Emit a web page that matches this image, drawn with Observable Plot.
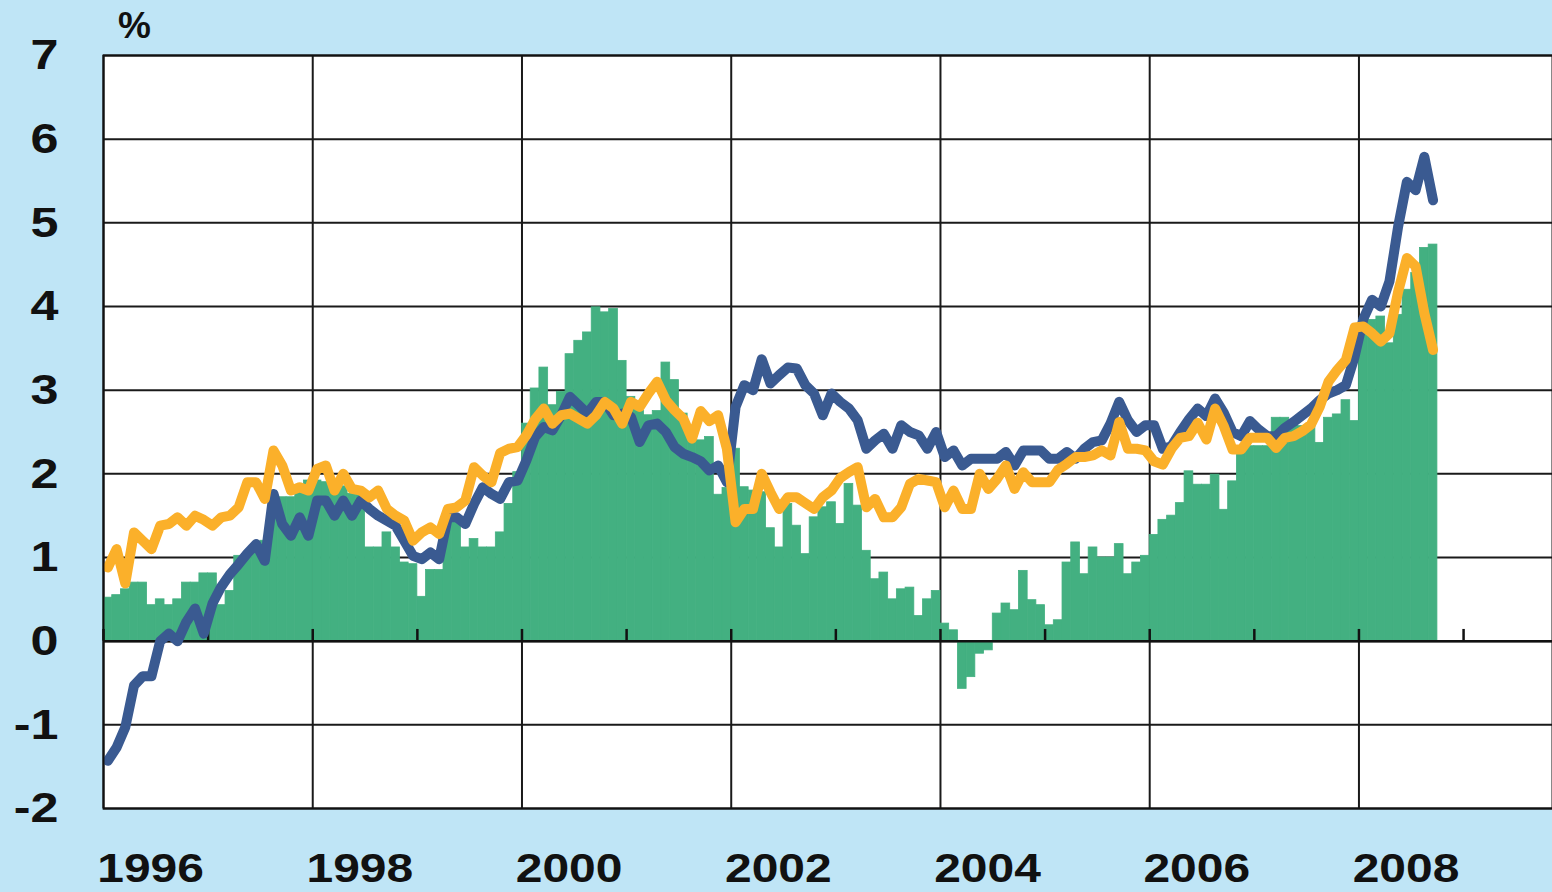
<!DOCTYPE html>
<html>
<head>
<meta charset="utf-8">
<script src="https://cdn.jsdelivr.net/npm/d3@7"></script>
<script src="https://cdn.jsdelivr.net/npm/@observablehq/plot@0.6"></script>
<style>
  html, body { margin: 0; padding: 0; overflow: hidden; }
  body { background: #bfe5f6; width: 1552px; height: 892px; }
  #chart { width: 1552px; height: 892px; }
</style>
</head>
<body>
<div id="chart"></div>
<script>
// Monthly series, January 1996 to September 2008
const startYear = 1996;

const greenSeries = [
  0.52, 0.55, 0.62, 0.70, 0.70, 0.43, 0.50, 0.43, 0.50, 0.70, 0.70, 0.81,
  0.81, 0.43, 0.60, 1.02, 1.02, 1.10, 1.20, 1.50, 1.72, 1.72, 1.80, 1.92,
  1.92, 1.90, 1.88, 1.85, 1.76, 1.76, 1.12, 1.12, 1.30, 1.12, 0.94, 0.92,
  0.53, 0.85, 0.85, 1.44, 1.44, 1.12, 1.22, 1.12, 1.12, 1.30, 1.64, 2.02,
  2.60, 3.02, 3.27, 2.82, 2.98, 3.43, 3.59, 3.69, 3.99, 3.93, 3.97, 3.35,
  2.92, 2.75, 2.70, 2.75, 3.33, 3.12, 2.72, 2.44, 2.40, 2.44, 1.75, 1.83,
  2.30, 1.84, 1.80, 1.78, 1.35, 1.12, 1.64, 1.38, 1.04, 1.48, 1.60, 1.66,
  1.40, 1.88, 1.62, 1.08, 0.74, 0.82, 0.50, 0.62, 0.64, 0.30, 0.50, 0.60,
  0.21, 0.13, -0.57, -0.43, -0.15, -0.11, 0.33, 0.45, 0.37, 0.84, 0.49, 0.43,
  0.19, 0.25, 0.94, 1.18, 0.80, 1.12, 1.00, 1.00, 1.16, 0.80, 0.94, 1.02,
  1.27, 1.45, 1.50, 1.65, 2.03, 1.87, 1.87, 1.99, 1.57, 1.91, 2.33, 2.33,
  2.33, 2.33, 2.67, 2.67, 2.60, 2.57, 2.57, 2.37, 2.67, 2.71, 2.88, 2.63,
  3.84, 3.84, 3.88, 3.56, 3.90, 4.20, 4.40, 4.70, 4.74
];

const blueSeries = [
  -1.43, -1.27, -1.03, -0.53, -0.42, -0.42, 0.00, 0.09, 0.00, 0.23, 0.39, 0.09,
  0.45, 0.65, 0.80, 0.92, 1.05, 1.16, 0.96, 1.76, 1.40, 1.26, 1.48, 1.26,
  1.68, 1.68, 1.50, 1.68, 1.50, 1.68, 1.58, 1.50, 1.44, 1.38, 1.20, 1.02,
  0.98, 1.06, 0.98, 1.48, 1.48, 1.40, 1.64, 1.84, 1.76, 1.70, 1.90, 1.92,
  2.16, 2.44, 2.56, 2.52, 2.70, 2.92, 2.82, 2.72, 2.86, 2.86, 2.70, 2.72,
  2.68, 2.38, 2.58, 2.60, 2.50, 2.32, 2.24, 2.20, 2.15, 2.04, 2.10, 1.90,
  2.80, 3.06, 3.00, 3.37, 3.08, 3.18, 3.27, 3.26, 3.06, 2.96, 2.70, 2.96,
  2.86, 2.78, 2.64, 2.30, 2.40, 2.48, 2.30, 2.58, 2.50, 2.46, 2.30, 2.50,
  2.20, 2.28, 2.10, 2.18, 2.18, 2.18, 2.18, 2.26, 2.10, 2.28, 2.28, 2.28,
  2.18, 2.18, 2.26, 2.18, 2.30, 2.38, 2.40, 2.60, 2.86, 2.64, 2.50, 2.58,
  2.58, 2.30, 2.33, 2.50, 2.65, 2.78, 2.69, 2.90, 2.73, 2.50, 2.45, 2.63,
  2.53, 2.45, 2.45, 2.55, 2.62, 2.70, 2.78, 2.88, 2.96, 3.00, 3.06, 3.40,
  3.85, 4.08, 4.00, 4.30, 4.96, 5.49, 5.39, 5.79, 5.27
];

const orangeSeries = [
  0.88, 1.10, 0.69, 1.30, 1.20, 1.10, 1.38, 1.40, 1.48, 1.38, 1.50, 1.45,
  1.38, 1.48, 1.50, 1.60, 1.90, 1.90, 1.70, 2.28, 2.10, 1.80, 1.84, 1.80,
  2.06, 2.10, 1.80, 2.00, 1.82, 1.80, 1.72, 1.80, 1.58, 1.50, 1.44, 1.20,
  1.30, 1.36, 1.28, 1.58, 1.60, 1.68, 2.08, 1.98, 1.90, 2.25, 2.30, 2.32,
  2.46, 2.65, 2.78, 2.60, 2.70, 2.72, 2.66, 2.60, 2.70, 2.86, 2.78, 2.60,
  2.86, 2.80, 2.96, 3.10, 2.88, 2.76, 2.66, 2.42, 2.75, 2.63, 2.70, 2.30,
  1.42, 1.58, 1.58, 2.00, 1.78, 1.58, 1.72, 1.72, 1.65, 1.58, 1.72, 1.80,
  1.95, 2.02, 2.08, 1.60, 1.70, 1.48, 1.48, 1.60, 1.88, 1.94, 1.92, 1.90,
  1.60, 1.80, 1.58, 1.58, 2.00, 1.82, 1.94, 2.10, 1.82, 2.02, 1.90, 1.90,
  1.90, 2.05, 2.12, 2.20, 2.20, 2.22, 2.28, 2.22, 2.62, 2.30, 2.30, 2.28,
  2.15, 2.11, 2.30, 2.43, 2.45, 2.61, 2.41, 2.78, 2.57, 2.29, 2.29, 2.43,
  2.43, 2.43, 2.31, 2.43, 2.45, 2.51, 2.59, 2.80, 3.10, 3.24, 3.36, 3.75,
  3.76, 3.68, 3.58, 3.68, 4.18, 4.58, 4.48, 3.92, 3.48
];

const yTicks = [-2, -1, 0, 1, 2, 3, 4, 5, 6, 7];
const gridYears = [1996, 1998, 2000, 2002, 2004, 2006, 2008];
const tickYears = [1996, 1997, 1998, 1999, 2000, 2001, 2002, 2003, 2004, 2005, 2006, 2007, 2008, 2009];
const labelYears = [1996, 1998, 2000, 2002, 2004, 2006, 2008];
const unitLabel = ["%"];

// Build tables
const bars = greenSeries.map((v, i) => ({x1: startYear + i / 12, x2: startYear + (i + 1) / 12, v}));
const toPoints = (arr) => arr.map((v, i) => ({x: startYear + (i + 0.5) / 12, v}));
const bluePts = toPoints(blueSeries);
const orangePts = toPoints(orangeSeries);

const labelOffset = 0.45; // labels sit between gridlines
const font = "'Liberation Sans', Arial, Helvetica, sans-serif";

const chart = Plot.plot({
  width: 1552,
  height: 892,
  marginLeft: 103,
  marginRight: 0,
  marginTop: 55,
  marginBottom: 84,
  style: {background: "transparent", fontFamily: font, color: "#111"},
  x: {domain: [1996, 2009.85], axis: null},
  y: {domain: [-2, 7], axis: null},
  marks: [
    Plot.frame({fill: "white", stroke: null}),
    Plot.ruleY(yTicks, {stroke: "#1a1a1a", strokeWidth: 2}),
    Plot.ruleX(gridYears, {stroke: "#1a1a1a", strokeWidth: 2}),
    Plot.rectY(bars, {x1: "x1", x2: "x2", y1: 0, y2: "v", fill: "#43b081", stroke: "#43b081", strokeWidth: 0.8, inset: 0}),
    Plot.ruleY([0], {stroke: "#111", strokeWidth: 2.5}),
    Plot.ruleX(tickYears, {y1: 0, y2: 0.14, stroke: "#111", strokeWidth: 2.5}),
    Plot.line(bluePts, {x: "x", y: "v", stroke: "#3a5a91", strokeWidth: 10, strokeLinejoin: "round", strokeLinecap: "round"}),
    Plot.line(orangePts, {x: "x", y: "v", stroke: "#fbb02a", strokeWidth: 10, strokeLinejoin: "round", strokeLinecap: "round"}),
    Plot.frame({stroke: "#111", strokeWidth: 2}),
    Plot.axisY(yTicks, {label: null, tickSize: 0, tickPadding: 45, fontSize: 43, fontWeight: "bold", tickFormat: d => String(d)}),
    Plot.axisX(labelYears.map(y => y + labelOffset), {label: null, tickSize: 0, tickPadding: 44, fontSize: 41, fontWeight: "bold", tickFormat: d => String(Math.round(d - labelOffset))}),
    Plot.text(unitLabel, {text: d => d, frameAnchor: "top-left", dx: 31, dy: -29, fontSize: 37, fontWeight: "bold", textAnchor: "middle", lineAnchor: "middle", fill: "#111"})
  ]
});

// Widen the bold digit labels horizontally, as in the original artwork
d3.select(chart).selectAll('g[aria-label="x-axis tick label"] text, g[aria-label="y-axis tick label"] text')
  .attr("transform", function () { return (this.getAttribute("transform") || "") + " scale(1.17,1)"; });

document.getElementById("chart").appendChild(chart);
</script>
</body>
</html>
